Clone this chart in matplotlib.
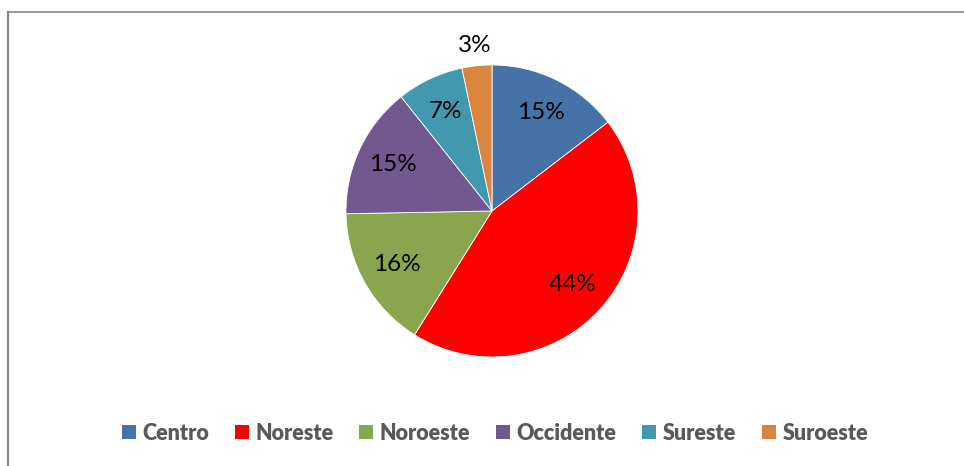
import matplotlib
matplotlib.use('Agg')
import matplotlib.pyplot as plt
from matplotlib.lines import Line2D

matplotlib.rcParams.update({'font.family': ['Lato', 'DejaVu Sans']})

regions = ['Centro', 'Noreste', 'Noroeste', 'Occidente', 'Sureste', 'Suroeste']
shares = [14.6, 44.3, 15.8, 14.6, 7.4, 3.3]
colors = ['#4572A7', '#FF0000', '#89A54E', '#71588F', '#4198AF', '#DB843D']

W, H = 964, 466
fig = plt.figure(figsize=(W / 100, H / 100), dpi=100)

# pie centre about (492, 211) px, radius 146 px
cx, cy, r = 492, 211, 146
ax = fig.add_axes([(cx - r) / W, (H - cy - r) / H, 2 * r / W, 2 * r / H])
wedges, texts, autotexts = ax.pie(shares, colors=colors, startangle=90, counterclock=False,
                                  autopct='%1.0f%%', pctdistance=0.75,
                                  wedgeprops=dict(linewidth=0.6, edgecolor='white'),
                                  textprops=dict(fontsize=17.5, color='black'))
ax.set_xlim(-1, 1)
ax.set_ylim(-1, 1)
ax.set_aspect('auto')

# smallest slice label sits outside the pie
x, y = autotexts[-1].get_position()
autotexts[-1].set_position((x / 0.75 * 1.14, y / 0.75 * 1.14))

leg = fig.legend(wedges, regions, loc='center', bbox_to_anchor=(495 / W, 1 - 433 / H),
                 ncol=6, frameon=False, handlelength=0.65, handleheight=0.65,
                 handletextpad=0.3, columnspacing=1.2,
                 prop=dict(size=15.5, weight='heavy'))
for t in leg.get_texts():
    t.set_color('#595959')
for h in leg.legend_handles:
    h.set_linewidth(0)

# chart frame (only top and left edges visible)
fig.add_artist(Line2D([8 / W, 1], [1 - 12 / H, 1 - 12 / H], color='#888888', lw=1.2))
fig.add_artist(Line2D([8 / W, 8 / W], [0, 1 - 12 / H], color='#888888', lw=1.6))

fig.savefig('out.png', dpi=100)
